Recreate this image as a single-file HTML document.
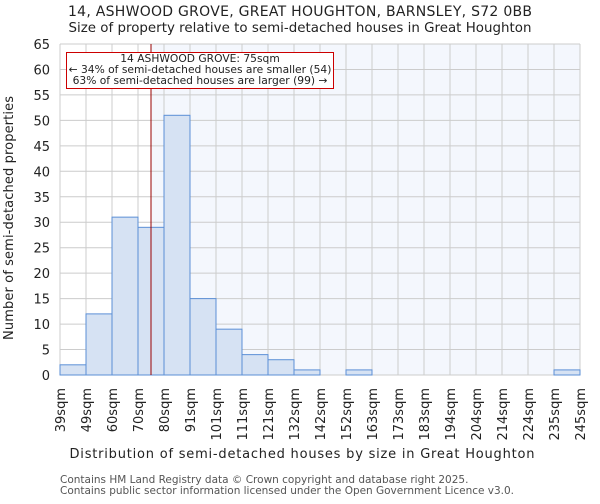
<!DOCTYPE html>
<html><head><meta charset="utf-8"><style>
body{margin:0;background:#fff;font-family:"DejaVu Sans","Liberation Sans",sans-serif;}
svg text{font-family:"DejaVu Sans","Liberation Sans",sans-serif;}
</style></head><body>
<svg id="c" width="600" height="500" xmlns="http://www.w3.org/2000/svg">
<text x="300" y="16" text-anchor="middle" font-size="14" fill="#222" textLength="464">14, ASHWOOD GROVE, GREAT HOUGHTON, BARNSLEY, S72 0BB</text>
<text x="300" y="32" text-anchor="middle" font-size="13.4" fill="#222" textLength="463">Size of property relative to semi-detached houses in Great Houghton</text>
<g id="plot"></g>
<text x="302" y="458" text-anchor="middle" font-size="13" fill="#222" textLength="465">Distribution of semi-detached houses by size in Great Houghton</text>
<text transform="translate(13,218) rotate(-90)" text-anchor="middle" font-size="13" fill="#222" textLength="244">Number of semi-detached properties</text>
<text x="60" y="483" font-size="10.5" fill="#555">Contains HM Land Registry data © Crown copyright and database right 2025.</text>
<text x="60" y="494" font-size="10.5" fill="#555" textLength="454">Contains public sector information licensed under the Open Government Licence v3.0.</text>
</svg>
<script>
const binLabels=["39sqm","49sqm","60sqm","70sqm","80sqm","91sqm","101sqm","111sqm","121sqm","132sqm","142sqm","152sqm","163sqm","173sqm","183sqm","194sqm","204sqm","214sqm","224sqm","235sqm","245sqm"];
const counts=[2,12,31,29,51,15,9,4,3,1,0,1,0,0,0,0,0,0,0,1];
const yTicks=[0,5,10,15,20,25,30,35,40,45,50,55,60,65];
const propertyBin=3.5;
const NS="http://www.w3.org/2000/svg";
const L=60,R=580,T=44,B=375,yMax=65;
const bw=(R-L)/counts.length;
const xs=i=>L+i*bw;
const ys=v=>B-(v/yMax)*(B-T);
const g=document.getElementById('plot');
function mk(t,a){const e=document.createElementNS(NS,t);for(const k in a)e.setAttribute(k,a[k]);g.appendChild(e);return e;}
const px=xs(propertyBin);
let e=mk('rect',{x:L,y:T,width:px-L,height:B-T,fill:'#ffffff'});


e=mk('rect',{x:px,y:T,width:R-px,height:B-T,fill:'#f4f7fd'});


yTicks.forEach(v=>{
 let l=mk('line',{x1:L,x2:R,y1:ys(v),y2:ys(v),stroke:'#cccccc','stroke-width':1});
 
 
 let t=mk('text',{x:L-10,y:ys(v)+5,'text-anchor':'end','font-size':13,fill:'#222'});
 t.textContent=v;
 
 
});
binLabels.forEach((s,i)=>{
 let l=mk('line',{x1:xs(i),x2:xs(i),y1:T,y2:B,stroke:'#cccccc','stroke-width':1});
 
 
 let t=mk('text',{transform:`translate(${xs(i)+5},388) rotate(-90)`,'text-anchor':'end','font-size':13,fill:'#222'});
 t.textContent=s;
 
 
});
counts.forEach((c,i)=>{
 let r=mk('rect',{x:xs(i),y:ys(c),width:bw,height:B-ys(c),fill:'#d6e2f3',stroke:'#5b8fd6','stroke-width':1});
 
 
});
e=mk('line',{x1:px,x2:px,y1:T,y2:B,stroke:'#990000','stroke-width':1});


e=mk('rect',{x:66.5,y:52.5,width:267,height:36,fill:'#fff',stroke:'#cc0000','stroke-width':1});


["14 ASHWOOD GROVE: 75sqm","← 34% of semi-detached houses are smaller (54)","63% of semi-detached houses are larger (99) →"].forEach((s,i)=>{
 let t=mk('text',{x:200,y:62+i*11,'text-anchor':'middle','font-size':10.7,fill:'#222'});
 t.textContent=s;
 
 
});
</script>
</body></html>
